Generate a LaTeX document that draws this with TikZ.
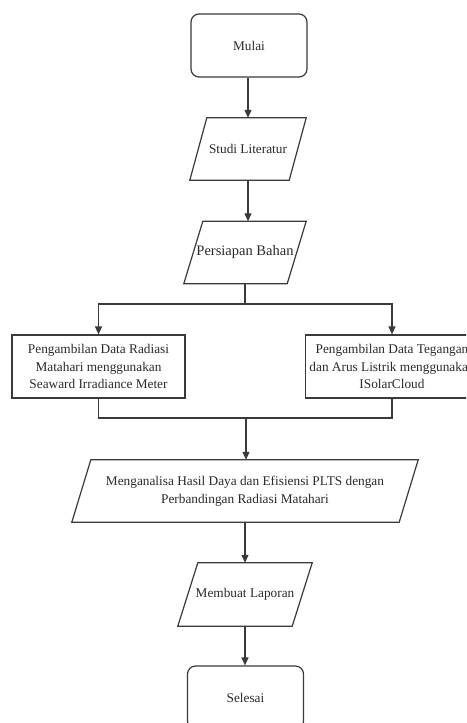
\documentclass[tikz,border=0pt]{standalone}
\usepackage{fontspec}
\setmainfont{Liberation Serif}
\usetikzlibrary{arrows.meta}
\definecolor{linec}{HTML}{3A3A3A}
\definecolor{textc}{HTML}{2A2A2A}
\tikzset{
  base/.style={inner sep=3pt, align=center, text=textc, font=\fontsize{13.3}{17.5}\selectfont},
  terminal/.style={base, draw=linec, line width=1.2pt, rounded corners=8pt, minimum width=116pt, minimum height=63pt},
  process/.style={base, draw=linec, line width=1.2pt, minimum width=173pt, minimum height=63pt},
  iobox/.style={base, minimum height=62pt},
  line/.style={draw=linec, line width=1.2pt},
  arrow/.style={line, -{Triangle[length=8pt,width=7pt]}}
}
\newcommand\drawpara[2]{\draw[line, line join=miter] ([xshift=#2]#1.north west) -- (#1.north east) -- ([xshift=-#2]#1.south east) -- (#1.south west) -- cycle;}
\begin{document}
\begin{tikzpicture}[x=1pt,y=-1pt]
\useasboundingbox (0,0) rectangle (466,723);
\clip (0,0) rectangle (466,723);
\fill[white] (0,0) rectangle (466,723);

\node[terminal] (mulai) at (249,45.5) {Mulai};
\node[iobox, minimum width=116pt] (studi) at (248,149) {Studi Literatur};
\drawpara{studi}{17pt}
\node[iobox, minimum width=122pt, font=\fontsize{14.5}{17.5}\selectfont] (pers) at (245,252.5) {Persiapan Bahan};
\drawpara{pers}{19pt}
\node[process] (left) at (98.5,366.5) {Pengambilan Data Radiasi\\Matahari menggunakan\\Seaward Irradiance Meter};
\node[process] (right) at (392,366.5) {Pengambilan Data Tegangan\\dan Arus Listrik menggunakan\\ISolarCloud};
\node[iobox, minimum width=346pt] (anal) at (245,491) {Menganalisa Hasil Daya dan Efisiensi PLTS dengan\\Perbandingan Radiasi Matahari};
\drawpara{anal}{19pt}
\node[iobox, minimum width=134pt, minimum height=63pt] (lap) at (245,594.5) {Membuat Laporan};
\drawpara{lap}{20pt}
\node[terminal] (selesai) at (245.5,697.5) {Selesai};

\coordinate (j1) at (245,304);
\coordinate (j2) at (246,418);

\draw[arrow] (mulai.south -| studi.north) -- (studi.north);
\draw[arrow] (studi.south) -- (studi.south |- pers.north);
\draw[line] (pers.south) -- (j1);
\draw[arrow] (j1) -| (left.north);
\draw[arrow] (j1) -| (right.north);
\draw[line] (left.south) |- (j2);
\draw[line] (right.south) |- (j2);
\draw[arrow] (j2) -- (j2 |- anal.north);
\draw[arrow] (anal.south) -- (lap.north);
\draw[arrow] (lap.south) -- (lap.south |- selesai.north);
\end{tikzpicture}
\end{document}
